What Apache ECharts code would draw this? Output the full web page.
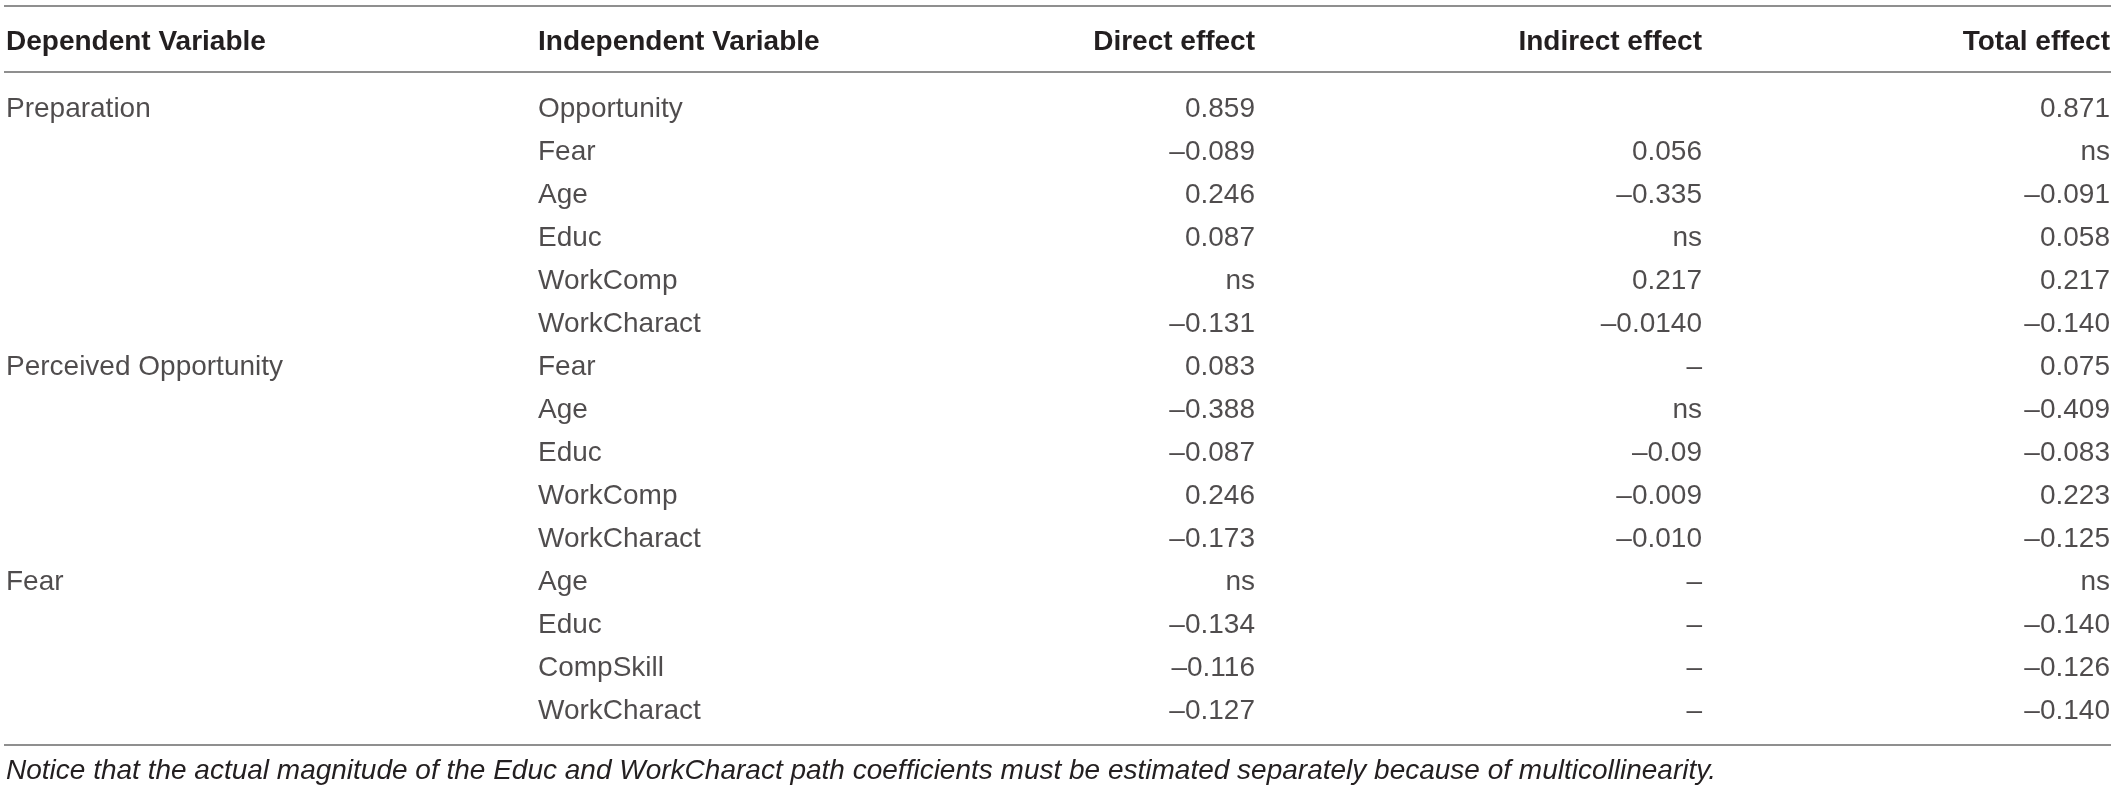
<!DOCTYPE html>
<html>
<head>
<meta charset="utf-8">
<script src="https://cdn.jsdelivr.net/npm/echarts@6/dist/echarts.min.js"></script>
<style>
  html, body { margin: 0; padding: 0; background: #fff; }
  #main { width: 2117px; height: 793px; }
</style>
</head>
<body>
<div id="main"></div>
<script>
// table content
var headers = ['Dependent Variable', 'Independent Variable', 'Direct effect', 'Indirect effect', 'Total effect'];
var dependents = ['Preparation', 'Perceived Opportunity', 'Fear'];
var dependentRow = [0, 6, 11];   // row where each dependent variable starts
var independents = ['Opportunity', 'Fear', 'Age', 'Educ', 'WorkComp', 'WorkCharact',
                    'Fear', 'Age', 'Educ', 'WorkComp', 'WorkCharact',
                    'Age', 'Educ', 'CompSkill', 'WorkCharact'];
var directEffect = ['0.859', '–0.089', '0.246', '0.087', 'ns', '–0.131',
                    '0.083', '–0.388', '–0.087', '0.246', '–0.173',
                    'ns', '–0.134', '–0.116', '–0.127'];
var indirectEffect = ['', '0.056', '–0.335', 'ns', '0.217', '–0.0140',
                      '–', 'ns', '–0.09', '–0.009', '–0.010',
                      '–', '–', '–', '–'];
var totalEffect = ['0.871', 'ns', '–0.091', '0.058', '0.217', '–0.140',
                   '0.075', '–0.409', '–0.083', '0.223', '–0.125',
                   'ns', '–0.140', '–0.126', '–0.140'];
var footnote = 'Notice that the actual magnitude of the Educ and WorkCharact path coefficients must be estimated separately because of multicollinearity.';

// layout
var W = 2117, H = 793;
var COL_X = [6, 538, 1255, 1702, 2110];           // anchor of each column
var COL_ALIGN = ['left', 'left', 'right', 'right', 'right'];
var FONT = '"Liberation Sans", Arial, Helvetica, sans-serif';
var TEXT_COLOR = '#231f20';
var RULE_COLOR = '#8f8f8f';

var rowNames = independents.map(function(d, i) { return 'r' + i; });

function colSeries(colIdx, values) {
    var data = [];
    values.forEach(function(v, i) {
        if (v !== '' && v != null) data.push([COL_X[colIdx], i, v]);
    });
    return {
        type: 'scatter',
        symbolSize: 0,
        silent: true,
        data: data,
        label: {
            show: true,
            position: COL_ALIGN[colIdx] == 'left' ? 'right' : 'left',
            distance: 0,
            formatter: function(p) { return p.data[2]; },
            fontFamily: FONT,
            fontSize: 28,
            color: TEXT_COLOR
        }
    };
}

var depValues = independents.map(function() { return ''; });
dependentRow.forEach(function(r, i) { depValues[r] = dependents[i]; });

var graphics = [];
// rules
[6, 72, 745].forEach(function(y) {
    graphics.push({
        type: 'line', silent: true,
        shape: { x1: 4, y1: y, x2: 2111, y2: y },
        style: { stroke: RULE_COLOR, lineWidth: 2 }
    });
});
// header
headers.forEach(function(h, i) {
    graphics.push({
        type: 'text', silent: true,
        x: COL_X[i], y: 42,
        style: {
            text: h, fill: TEXT_COLOR,
            font: 'bold 28px ' + FONT,
            textAlign: COL_ALIGN[i], textVerticalAlign: 'middle'
        }
    });
});
// footnote
graphics.push({
    type: 'text', silent: true,
    x: 6, y: 771,
    style: {
        text: footnote, fill: TEXT_COLOR,
        font: 'italic 28px ' + FONT,
        textAlign: 'left', textVerticalAlign: 'middle'
    }
});

var chart = echarts.init(document.getElementById('main'));
chart.setOption({
    animation: false,
    grid: { left: 0, right: 0, top: 88, height: 645 },
    xAxis: { type: 'value', min: 0, max: W, show: false },
    yAxis: { type: 'category', data: rowNames, inverse: true, show: false },
    series: [
        colSeries(0, depValues),
        colSeries(1, independents),
        colSeries(2, directEffect),
        colSeries(3, indirectEffect),
        colSeries(4, totalEffect)
    ],
    graphic: graphics
});
</script>
</body>
</html>
